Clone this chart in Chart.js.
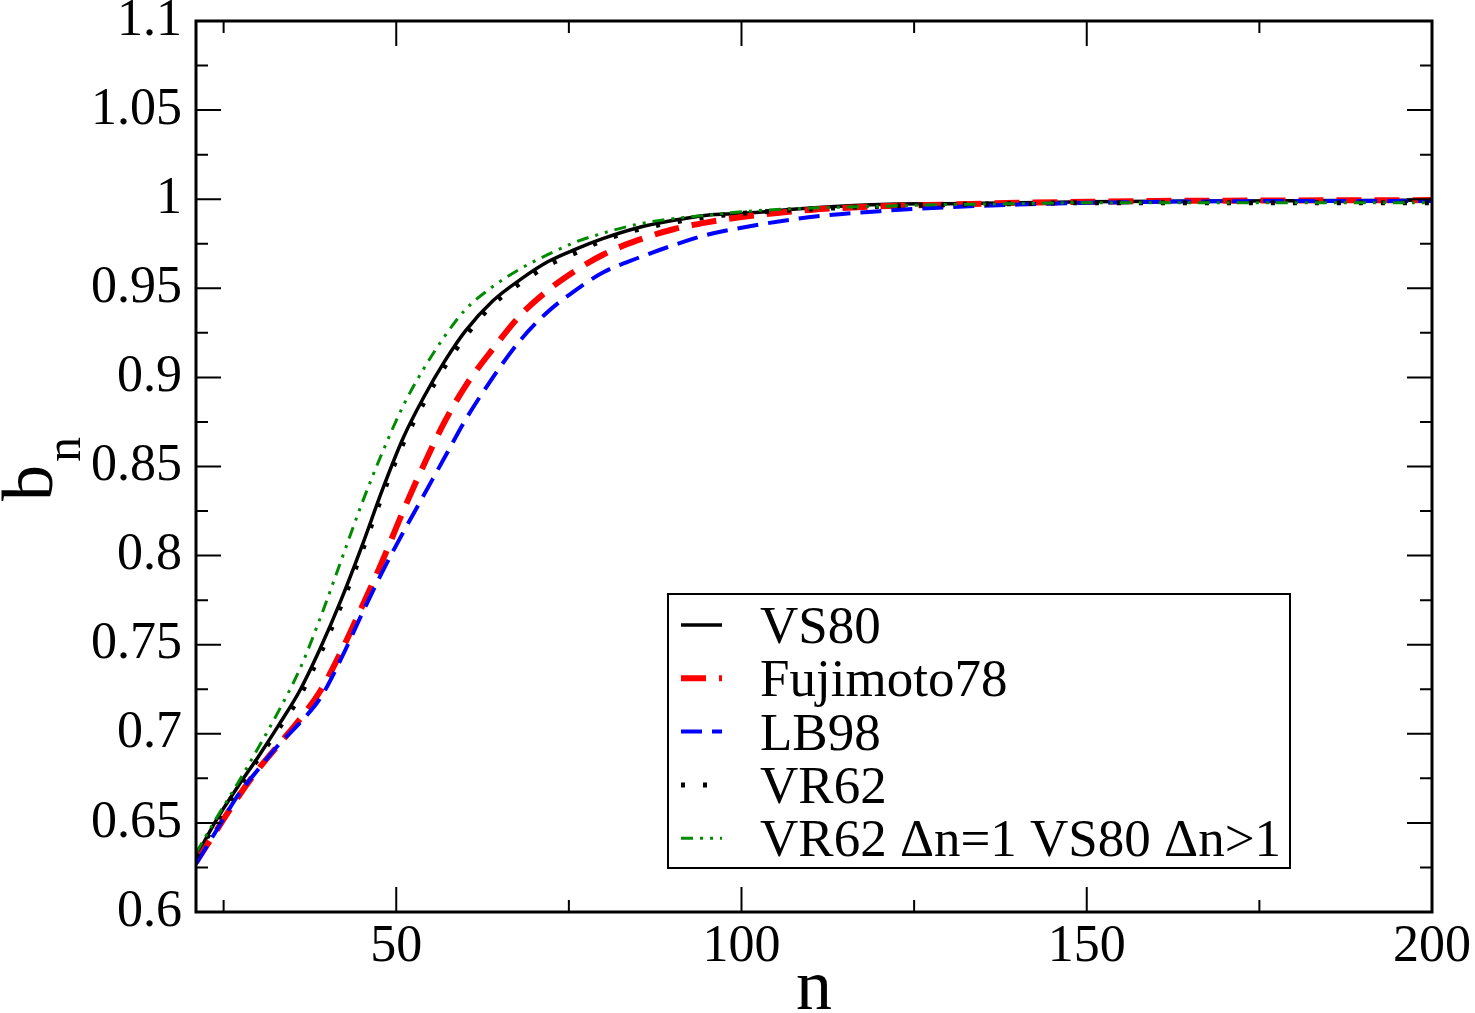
<!DOCTYPE html>
<html>
<head>
<meta charset="utf-8">
<script src="https://cdn.jsdelivr.net/npm/chart.js@4.4.1/dist/chart.umd.min.js"></script>
<style>
  html, body { margin: 0; padding: 0; background: #fff; }
  canvas { display: block; }
</style>
</head>
<body>
<canvas id="target" width="1475" height="1013"></canvas>
<script>
// n grid and the five b_n curves
var nValues   = [21, 24, 27, 30, 33, 36, 39, 42, 45, 48, 51, 54, 57, 60, 64, 68, 72, 76, 80, 85, 90, 95, 100, 110, 120, 130, 140, 150, 160, 170, 180, 190, 200];
var vs80      = [0.631, 0.652, 0.670, 0.687, 0.705, 0.724, 0.748, 0.775, 0.805, 0.837, 0.866, 0.889, 0.909, 0.926, 0.943, 0.955, 0.965, 0.972, 0.978, 0.984, 0.988, 0.991, 0.992, 0.995, 0.997, 0.9975, 0.998, 0.9985, 0.9988, 0.999, 0.9992, 0.9993, 0.9995];
var fujimoto78 = [0.628, 0.646, 0.664, 0.680, 0.694, 0.708, 0.724, 0.746, 0.771, 0.797, 0.825, 0.851, 0.875, 0.895, 0.916, 0.935, 0.949, 0.960, 0.969, 0.977, 0.983, 0.987, 0.990, 0.994, 0.996, 0.997, 0.998, 0.9985, 0.999, 0.9992, 0.9993, 0.9994, 0.9995];
var lb98      = [0.627, 0.646, 0.665, 0.680, 0.694, 0.706, 0.720, 0.742, 0.767, 0.791, 0.813, 0.834, 0.855, 0.876, 0.900, 0.921, 0.937, 0.949, 0.959, 0.967, 0.974, 0.980, 0.984, 0.990, 0.9933, 0.9955, 0.997, 0.998, 0.9985, 0.9988, 0.999, 0.999, 0.999];
var vr62      = [0.631, 0.651, 0.669, 0.686, 0.703, 0.721, 0.745, 0.772, 0.802, 0.834, 0.863, 0.886, 0.906, 0.923, 0.941, 0.953, 0.963, 0.970, 0.977, 0.983, 0.987, 0.990, 0.992, 0.9945, 0.996, 0.997, 0.9975, 0.998, 0.998, 0.998, 0.998, 0.998, 0.998];
var vr62vs80  = [0.633, 0.653, 0.672, 0.692, 0.713, 0.736, 0.765, 0.797, 0.829, 0.858, 0.884, 0.905, 0.923, 0.938, 0.951, 0.961, 0.969, 0.976, 0.981, 0.986, 0.989, 0.991, 0.993, 0.995, 0.996, 0.997, 0.9975, 0.998, 0.998, 0.998, 0.998, 0.998, 0.998];

var seriesLabels = ["VS80", "Fujimoto78", "LB98", "VR62", "VR62 \u0394n=1 VS80 \u0394n>1"];

// axis ticks
var xMajor = [50, 100, 150, 200];
var xMinor = [25, 75, 125, 175];
var yMajor = [0.6, 0.65, 0.7, 0.75, 0.8, 0.85, 0.9, 0.95, 1, 1.05, 1.1];
var yMinor = [0.625, 0.675, 0.725, 0.775, 0.825, 0.875, 0.925, 0.975, 1.025, 1.075];

var serif = "'Liberation Serif', 'DejaVu Serif', serif";

function pts(ys){
  return nValues.map(function(n, i){ return {x: n, y: ys[i]}; });
}

function ds(label, ys, color, width, dash, order){
  return {
    label: label,
    data: pts(ys),
    borderColor: color,
    borderWidth: width,
    borderDash: dash,
    borderCapStyle: 'butt',
    pointRadius: 0,
    fill: false,
    cubicInterpolationMode: 'monotone',
    order: order
  };
}

// inward ticks on all four sides + frame
var frameTicks = {
  id: 'frameTicks',
  afterDatasetsDraw: function(chart){
    var ctx = chart.ctx, a = chart.chartArea;
    var xs = chart.scales.x, ys = chart.scales.y;
    ctx.save();
    ctx.strokeStyle = '#000';
    ctx.lineWidth = 2;
    ctx.beginPath();
    function vt(v, len){
      var p = xs.getPixelForValue(v);
      ctx.moveTo(p, a.bottom); ctx.lineTo(p, a.bottom - len);
      ctx.moveTo(p, a.top); ctx.lineTo(p, a.top + len);
    }
    function ht(v, len){
      var p = ys.getPixelForValue(v);
      ctx.moveTo(a.left, p); ctx.lineTo(a.left + len, p);
      ctx.moveTo(a.right, p); ctx.lineTo(a.right - len, p);
    }
    xMajor.forEach(function(v){ vt(v, 25); });
    xMinor.forEach(function(v){ vt(v, 12); });
    yMajor.forEach(function(v){ ht(v, 25); });
    yMinor.forEach(function(v){ ht(v, 12); });
    ctx.stroke();
    ctx.lineWidth = 3;
    ctx.strokeRect(a.left, a.top, a.right - a.left, a.bottom - a.top);
    ctx.restore();
  }
};

// axis titles and the boxed legend
var titlesLegend = {
  id: 'titlesLegend',
  afterDraw: function(chart){
    var ctx = chart.ctx, a = chart.chartArea;
    ctx.save();
    ctx.fillStyle = '#000';
    ctx.textBaseline = 'alphabetic';

    // x title
    ctx.font = '72px ' + serif;
    ctx.textAlign = 'center';
    ctx.fillText('n', (a.left + a.right) / 2, 1009);

    // y title b_n
    ctx.save();
    ctx.rotate(-Math.PI / 2);
    ctx.textAlign = 'left';
    ctx.font = '72px ' + serif;
    var bw = ctx.measureText('b').width;
    ctx.fillText('b', -501, 52);
    ctx.font = '50px ' + serif;
    ctx.fillText('n', -501 + bw + 3, 80);
    ctx.restore();

    // legend box
    var bx = 668, by = 594, bw2 = 622, bh = 274;
    ctx.fillStyle = '#fff';
    ctx.fillRect(bx, by, bw2, bh);
    ctx.strokeStyle = '#000';
    ctx.lineWidth = 2;
    ctx.strokeRect(bx, by, bw2, bh);

    ctx.font = '53px ' + serif;
    ctx.textAlign = 'left';
    chart.data.datasets.forEach(function(d, i){
      var yc = 625 + i * 53.3;
      ctx.save();
      ctx.strokeStyle = d.borderColor;
      ctx.lineWidth = d.borderWidth;
      ctx.setLineDash(d.borderDash || []);
      ctx.lineCap = 'butt';
      ctx.beginPath();
      ctx.moveTo(681, yc);
      ctx.lineTo(722, yc);
      ctx.stroke();
      ctx.restore();
      ctx.fillStyle = '#000';
      ctx.fillText(d.label, 760, yc + 18);
    });
    ctx.restore();
  }
};

var chart = new Chart(document.getElementById('target'), {
  type: 'line',
  data: {
    datasets: [
      ds(seriesLabels[0], vs80, '#000000', 3.5, [], 5),
      ds(seriesLabels[1], fujimoto78, '#ff0000', 6, [25, 13], 4),
      ds(seriesLabels[2], lb98, '#0000ff', 4, [21, 10], 3),
      ds(seriesLabels[3], vr62, '#000000', 5, [4, 18], 2),
      ds(seriesLabels[4], vr62vs80, '#008b00', 3, [12, 7, 3, 7, 3, 7], 1)
    ]
  },
  options: {
    responsive: false,
    animation: false,
    devicePixelRatio: 1,
    layout: { padding: { top: 21, right: 43, left: 0, bottom: 0 } },
    plugins: {
      legend: { display: false },
      tooltip: { enabled: false }
    },
    scales: {
      x: {
        type: 'linear',
        min: 21,
        max: 200,
        grid: { display: false, drawTicks: false },
        border: { display: false },
        afterBuildTicks: function(s){ s.ticks = xMajor.map(function(v){ return {value: v}; }); },
        afterFit: function(s){
          s.height = 101;
          s.paddingLeft = 0; s.paddingRight = 0; s.paddingTop = 0; s.paddingBottom = 0;
        },
        ticks: {
          color: '#000',
          padding: 4,
          maxRotation: 0,
          autoSkip: false,
          font: { family: serif, size: 52 },
          callback: function(v){ return String(v); }
        }
      },
      y: {
        min: 0.6,
        max: 1.1,
        grid: { display: false, drawTicks: false },
        border: { display: false },
        afterBuildTicks: function(s){ s.ticks = yMajor.map(function(v){ return {value: v}; }); },
        afterFit: function(s){
          s.width = 196;
          s.paddingLeft = 0; s.paddingRight = 0; s.paddingTop = 0; s.paddingBottom = 0;
        },
        ticks: {
          color: '#000',
          padding: 14,
          autoSkip: false,
          font: { family: serif, size: 52 },
          callback: function(v){ return String(Number(v.toFixed(3))); }
        }
      }
    }
  },
  plugins: [frameTicks, titlesLegend]
});
</script>
</body>
</html>
